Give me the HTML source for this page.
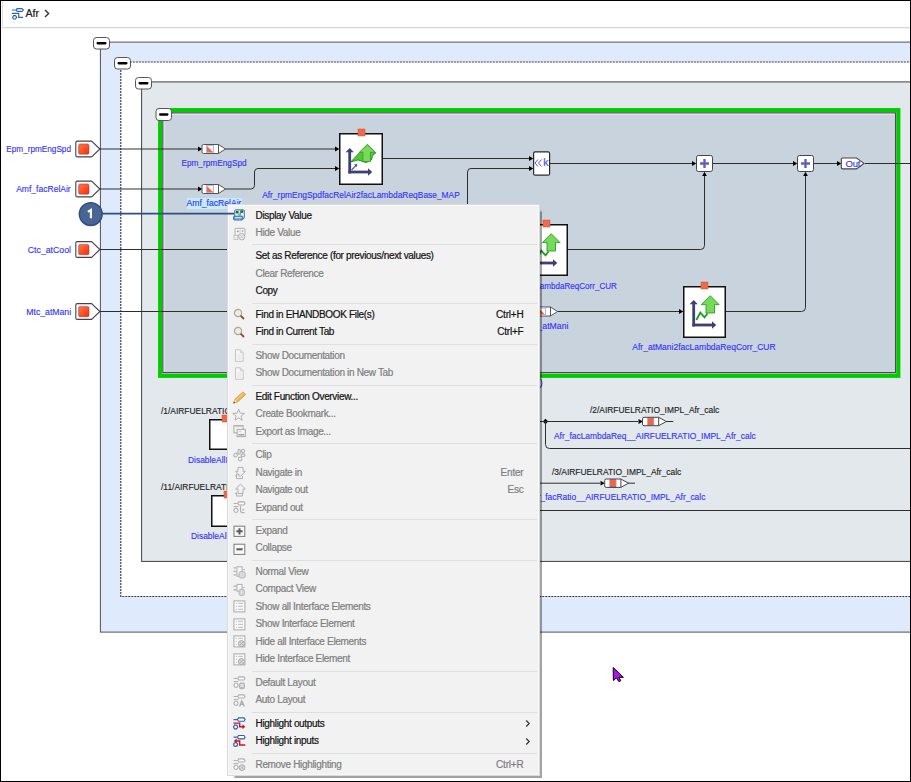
<!DOCTYPE html>
<html><head><meta charset="utf-8"><style>
*{margin:0;padding:0;box-sizing:border-box}
html,body{width:911px;height:782px;overflow:hidden;background:#fff}
body{position:relative;font-family:"Liberation Sans", sans-serif}
#frame{position:absolute;left:0;top:0;width:911px;height:782px;border:1px solid #000;z-index:50;pointer-events:none}
#hdr{position:absolute;left:2px;top:1px;width:909px;height:27px;background:#fff;border-left:1px solid #e2e2e2;border-bottom:1px solid #d6d6d6;box-shadow:0 1px 1px rgba(0,0,0,0.04)}
#hdr .afr{position:absolute;left:22.5px;top:6.2px;font-size:10.6px;line-height:12px;color:#1a1a1a;letter-spacing:0px;-webkit-text-stroke:0.2px currentColor}
.t{position:absolute;white-space:nowrap;line-height:12px;-webkit-text-stroke:0.15px currentColor}
.t.c{text-align:center}
#menu{position:absolute;left:227px;top:204px;width:313px;height:572px;background:#f2f2f2;border:1px solid #dadada;box-shadow:inset 1px 1px 0 #fafafa, inset -1px -1px 0 #f8f8f8, 3.75px 3.75px 1px -1.75px rgba(0,0,0,0.36)}
.mi{position:absolute;left:0;width:100%;height:17.5px;font-size:10px;letter-spacing:-0.33px;color:#111;-webkit-text-stroke:0.2px currentColor}
.mi .lb{position:absolute;left:27.5px;top:2.5px;line-height:12px;white-space:nowrap}
.mi .sc{position:absolute;right:15.5px;top:2.5px;line-height:12px;letter-spacing:-0.2px}
.mi.dis{color:#7e7e7e}
.mi .ic{position:absolute;left:4.5px;top:2px;overflow:visible}
.mi .sub{position:absolute;right:8.5px;top:4.25px}
.sep{position:absolute;left:24px;right:2px;height:1px;background:#dfdfdf}
</style></head><body>
<div id="hdr">
<svg style="position:absolute;left:9px;top:6px" width="14" height="14" viewBox="0 0 14 14">
<path d="M0 3 H4.4 M0 6.4 H6.9" stroke="#2c66b0" stroke-width="1.2"/>
<path d="M5.5 1.6 H9.9 L11.4 3 L9.9 4.4 H5.5 Q4.6 4.4 4.6 3.5 V2.5 Q4.6 1.6 5.5 1.6 Z" fill="none" stroke="#2c66b0" stroke-width="1.15"/>
<path d="M6.7 6 V10.4 H11.1" fill="none" stroke="#2c66b0" stroke-width="1.2"/>
<path d="M1.6 8.6 H3.6 L4.6 10.3 L3.6 12 H1.6 L0.6 10.3 Z" fill="none" stroke="#2c66b0" stroke-width="1.2"/>
</svg>
<div class="afr">Afr</div>
<svg style="position:absolute;left:41.3px;top:7.7px" width="6" height="9" viewBox="0 0 6 9"><path d="M1 1 L4.6 4.5 L1 8" fill="none" stroke="#333" stroke-width="1.4"/></svg>
</div>
<svg style="position:absolute;left:0;top:0" width="911" height="782" viewBox="0 0 911 782">
<defs><linearGradient id="rg" x1="0" y1="0" x2="1" y2="1"><stop offset="0" stop-color="#ff7a4a"/><stop offset="1" stop-color="#ff2c00"/></linearGradient></defs>
<rect x="100.4" y="42.1" width="830" height="590" fill="#dfeafd" stroke="#4e5258"/>
<rect x="120.8" y="62" width="810" height="534.5" fill="#ffffff" stroke="#3a3a3a" stroke-width="1.15" stroke-dasharray="2 1"/>
<rect x="141.6" y="81.9" width="790" height="479.5" fill="#e3e8ec" stroke="#404040"/>
<rect x="160.1" y="110.05" width="738.3" height="265.85" fill="#c9d3dd" stroke="#00cc00" stroke-width="4"/>
<rect x="162.9" y="112.9" width="732.7" height="259.7" fill="none" stroke="#4a4c52" stroke-width="1.2"/>
<path d="M164.2 371.6 V114.3 H894.7" fill="none" stroke="#e4eaf0" stroke-width="1"/>
<rect x="93.5" y="37.5" width="16" height="11.5" rx="3" fill="#fff" stroke="#555" stroke-width="1"/>
<rect x="96.5" y="42.05" width="10" height="2.4" rx="1.1" fill="#000"/>
<rect x="114.5" y="57.5" width="16" height="11.5" rx="3" fill="#fff" stroke="#555" stroke-width="1"/>
<rect x="117.5" y="62.05" width="10" height="2.4" rx="1.1" fill="#000"/>
<rect x="135.5" y="77.5" width="16" height="11.5" rx="3" fill="#fff" stroke="#555" stroke-width="1"/>
<rect x="138.5" y="82.05" width="10" height="2.4" rx="1.1" fill="#000"/>
<rect x="156.0" y="108.5" width="15.5" height="12" rx="3" fill="#fff" stroke="#555" stroke-width="1"/>
<rect x="159.0" y="113.3" width="9.5" height="2.4" rx="1.1" fill="#000"/>
<path d="M77.3 141.1 H91.6 L99.9 149 L91.6 156.9 H77.3 Q75.8 156.9 75.8 155.4 V142.6 Q75.8 141.1 77.3 141.1 Z" fill="#fff" stroke="#444" stroke-width="1.1"/>
<rect x="78.6" y="143.9" width="10.4" height="10.3" rx="1.5" fill="url(#rg)" stroke="#7a3a70" stroke-width=".5"/>
<path d="M77.3 181.1 H91.6 L99.9 189 L91.6 196.9 H77.3 Q75.8 196.9 75.8 195.4 V182.6 Q75.8 181.1 77.3 181.1 Z" fill="#fff" stroke="#444" stroke-width="1.1"/>
<rect x="78.6" y="183.9" width="10.4" height="10.3" rx="1.5" fill="url(#rg)" stroke="#7a3a70" stroke-width=".5"/>
<path d="M77.3 241.6 H91.6 L99.9 249.5 L91.6 257.4 H77.3 Q75.8 257.4 75.8 255.9 V243.1 Q75.8 241.6 77.3 241.6 Z" fill="#fff" stroke="#444" stroke-width="1.1"/>
<rect x="78.6" y="244.4" width="10.4" height="10.3" rx="1.5" fill="url(#rg)" stroke="#7a3a70" stroke-width=".5"/>
<path d="M77.3 303.6 H91.6 L99.9 311.5 L91.6 319.4 H77.3 Q75.8 319.4 75.8 317.9 V305.1 Q75.8 303.6 77.3 303.6 Z" fill="#fff" stroke="#444" stroke-width="1.1"/>
<rect x="78.6" y="306.4" width="10.4" height="10.3" rx="1.5" fill="url(#rg)" stroke="#7a3a70" stroke-width=".5"/>
<path d="M100 149 H198" fill="none" stroke="#2e2e2e" stroke-width="1"/>
<path d="M202.3 149 L198 146.6 L198 151.4 Z" fill="#000"/>
<path d="M225 149 H335" fill="none" stroke="#2e2e2e" stroke-width="1"/>
<path d="M339.3 149 L335 146.6 L335 151.4 Z" fill="#000"/>
<path d="M100 189 H198" fill="none" stroke="#2e2e2e" stroke-width="1"/>
<path d="M202.3 189 L198 186.6 L198 191.4 Z" fill="#000"/>
<path d="M225 189 H251 Q254.5 189 254.5 185.5 V172 Q254.5 168.5 258 168.5 H335" fill="none" stroke="#2e2e2e" stroke-width="1"/>
<path d="M339.3 168.5 L335 166.1 L335 170.9 Z" fill="#000"/>
<path d="M100 249.5 H230" fill="none" stroke="#2e2e2e" stroke-width="1"/>
<path d="M100 311.5 H230" fill="none" stroke="#2e2e2e" stroke-width="1"/>
<path d="M383 158.5 H529" fill="none" stroke="#2e2e2e" stroke-width="1"/>
<path d="M533.3 158.5 L529 156.1 L529 160.9 Z" fill="#000"/>
<path d="M467.5 215 V172 Q467.5 168.5 471 168.5 H529" fill="none" stroke="#2e2e2e" stroke-width="1"/>
<path d="M533.3 168.5 L529 166.1 L529 170.9 Z" fill="#000"/>
<path d="M550 163.5 H692" fill="none" stroke="#2e2e2e" stroke-width="1"/>
<path d="M696.3 163.5 L692 161.1 L692 165.9 Z" fill="#000"/>
<path d="M713 163.5 H793" fill="none" stroke="#2e2e2e" stroke-width="1"/>
<path d="M797.3 163.5 L793 161.1 L793 165.9 Z" fill="#000"/>
<path d="M814 163.5 H837" fill="none" stroke="#2e2e2e" stroke-width="1"/>
<path d="M841.3 163.5 L837 161.1 L837 165.9 Z" fill="#000"/>
<path d="M865 163.5 H911" fill="none" stroke="#2e2e2e" stroke-width="1"/>
<path d="M568 249.5 H700.5 Q704.5 249.5 704.5 245.5 V176" fill="none" stroke="#2e2e2e" stroke-width="1"/>
<path d="M704.5 171.7 L702.1 176 L706.9 176 Z" fill="#000"/>
<path d="M726 311.5 H801.5 Q805.5 311.5 805.5 307.5 V176" fill="none" stroke="#2e2e2e" stroke-width="1"/>
<path d="M805.5 171.7 L803.1 176 L807.9 176 Z" fill="#000"/>
<path d="M557 311.5 H679" fill="none" stroke="#2e2e2e" stroke-width="1"/>
<path d="M683.3 311.5 L679 309.1 L679 313.9 Z" fill="#000"/>
<path d="M545.5 418.8 L548.2 421.5 L545.5 424.2 L542.8 421.5 Z" fill="#000"/>
<path d="M530 421.5 H638" fill="none" stroke="#2e2e2e" stroke-width="1"/>
<path d="M642.8 421.5 L638.5 419.1 L638.5 423.9 Z" fill="#000"/>
<path d="M666 421.5 H673.3" fill="none" stroke="#2e2e2e" stroke-width="1"/>
<path d="M545.5 421.5 V444.5 Q545.5 448.5 549.5 448.5 H911" fill="none" stroke="#2e2e2e" stroke-width="1"/>
<path d="M530 483.2 H600" fill="none" stroke="#2e2e2e" stroke-width="1"/>
<path d="M604.8 483.2 L600.5 480.8 L600.5 485.59999999999997 Z" fill="#000"/>
<path d="M628 483.2 H635" fill="none" stroke="#2e2e2e" stroke-width="1"/>
<path d="M530 510.5 H911" fill="none" stroke="#2e2e2e" stroke-width="1"/>
<path d="M203.5 144.5 H218.5 L225.5 149 L218.5 153.5 H203.5 Q202 153.5 202 152 V146 Q202 144.5 203.5 144.5 Z" fill="#fff" stroke="#555" stroke-width="1"/>
<line x1="218.5" y1="144.5" x2="218.5" y2="153.5" stroke="#555" stroke-width="1"/>
<rect x="206.5" y="145.5" width="7" height="7" fill="#fff" stroke="#b4b4ee" stroke-width="1"/>
<path d="M207 146 L213 152 H207 Z" fill="#ff6630"/>
<path d="M203.5 184.5 H218.5 L225.5 189 L218.5 193.5 H203.5 Q202 193.5 202 192 V186 Q202 184.5 203.5 184.5 Z" fill="#fff" stroke="#555" stroke-width="1"/>
<line x1="218.5" y1="184.5" x2="218.5" y2="193.5" stroke="#555" stroke-width="1"/>
<rect x="206.5" y="185.5" width="7" height="7" fill="#fff" stroke="#b4b4ee" stroke-width="1"/>
<path d="M207 186 L213 192 H207 Z" fill="#ff6630"/>
<path d="M535.5 307.0 H550.5 L557.5 311.5 L550.5 316.0 H535.5 Q534 316.0 534 314.5 V308.5 Q534 307.0 535.5 307.0 Z" fill="#fff" stroke="#555" stroke-width="1"/>
<line x1="550.5" y1="307.0" x2="550.5" y2="316.0" stroke="#555" stroke-width="1"/>
<rect x="538.5" y="308.0" width="7" height="7" fill="#fff" stroke="#b4b4ee" stroke-width="1"/>
<path d="M539 308.5 L545 314.5 H539 Z" fill="#ff6630"/>
<path d="M644.0 417.3 H658.7 L666.3 421.5 L658.7 425.7 H644.0 Q642.5 425.7 642.5 424.2 V418.8 Q642.5 417.3 644.0 417.3 Z" fill="#fff" stroke="#444" stroke-width="1"/>
<line x1="658.7" y1="417.3" x2="658.7" y2="425.7" stroke="#444" stroke-width="1"/>
<rect x="647.5" y="418.1" width="6.4" height="6.8" fill="#ff6230" stroke="#a8a8e8" stroke-width=".7"/>
<path d="M647.5 417.9 H653.9 M647.5 425.1 H653.9" stroke="#34346a" stroke-width=".6"/>
<path d="M606.2 479.0 H620.9000000000001 L628.5 483.2 L620.9000000000001 487.4 H606.2 Q604.7 487.4 604.7 485.9 V480.5 Q604.7 479.0 606.2 479.0 Z" fill="#fff" stroke="#444" stroke-width="1"/>
<line x1="620.9000000000001" y1="479.0" x2="620.9000000000001" y2="487.4" stroke="#444" stroke-width="1"/>
<rect x="609.7" y="479.8" width="6.4" height="6.8" fill="#ff6230" stroke="#a8a8e8" stroke-width=".7"/>
<path d="M609.7 479.59999999999997 H616.1 M609.7 486.8 H616.1" stroke="#34346a" stroke-width=".6"/>
<rect x="339.75" y="133.75" width="42.5" height="50.5" fill="#fff" stroke="#111" stroke-width="1.5"/>
<rect x="358" y="129" width="7" height="7" fill="#f06a4a" stroke="#d05030" stroke-width=".5"/>
<g transform="translate(339,133)"><path d="M10.7 40.5 L10.7 18" stroke="#3f3f78" stroke-width="2.8"/><path d="M6.6 19.3 L10.7 15 L14.8 19.3 Z" fill="#3f3f78"/><path d="M9.3 39 L29.5 39" stroke="#3f3f78" stroke-width="2.8"/><path d="M29 35.3 L33.3 39 L29 42.7 Z" fill="#3f3f78"/></g>
<g transform="translate(339,133)"><path d="M12.6 37 L17.4 32" stroke="#5a5a92" stroke-width="1.1"/><path d="M15 31.3 L18.3 31 L18 34.3 Z" fill="#5a5a92"/><path d="M11.8 28.9 L28.3 11.6 L36.8 19.9 L33.6 22.5 L32.4 27 L27.1 29.6 L19.1 26.9 Z" fill="#58c43a" stroke="#1c9c1c" stroke-width="1"/><path d="M28.3 11.6 L36.3 19.3 L31.4 19.3 L31.4 28.6 L23.9 28.6 L23.9 19.3 L20.3 19.3 Z" fill="#7ad85c" stroke="#26a026" stroke-width=".8"/></g>
<rect x="524.75" y="224.75" width="42.5" height="50.5" fill="#fff" stroke="#111" stroke-width="1.5"/>
<rect x="543" y="220" width="7" height="7" fill="#f06a4a" stroke="#d05030" stroke-width=".5"/>
<g transform="translate(524,224)"><path d="M10.7 40.5 L10.7 17" stroke="#3f3f78" stroke-width="2.8"/><path d="M6.6 18.3 L10.7 14 L14.8 18.3 Z" fill="#3f3f78"/><path d="M9.3 39 L29.5 39" stroke="#3f3f78" stroke-width="2.8"/><path d="M29 35.3 L33.3 39 L29 42.7 Z" fill="#3f3f78"/></g>
<g transform="translate(524,224)"><path d="M13.4 34 L17.3 26.6 L21.5 31.3 L24.5 27.5" fill="none" stroke="#1c9c1c" stroke-width="1.8"/><path d="M27.2 9.7 L36.1 18.6 L31.5 18.6 L31.5 27 L23 27 L23 18.6 L18.4 18.6 Z" fill="#78d85a" stroke="#24a024" stroke-width=".9"/></g>
<rect x="683.75" y="286.75" width="41.5" height="50.5" fill="#fff" stroke="#111" stroke-width="1.5"/>
<rect x="701" y="282" width="7" height="7" fill="#f06a4a" stroke="#d05030" stroke-width=".5"/>
<g transform="translate(683,286)"><path d="M10.7 40.5 L10.7 17" stroke="#3f3f78" stroke-width="2.8"/><path d="M6.6 18.3 L10.7 14 L14.8 18.3 Z" fill="#3f3f78"/><path d="M9.3 39 L29.5 39" stroke="#3f3f78" stroke-width="2.8"/><path d="M29 35.3 L33.3 39 L29 42.7 Z" fill="#3f3f78"/></g>
<g transform="translate(683,286)"><path d="M13.4 34 L17.3 26.6 L21.5 31.3 L24.5 27.5" fill="none" stroke="#1c9c1c" stroke-width="1.8"/><path d="M27.2 9.7 L36.1 18.6 L31.5 18.6 L31.5 27 L23 27 L23 18.6 L18.4 18.6 Z" fill="#78d85a" stroke="#24a024" stroke-width=".9"/></g>
<rect x="209.75" y="419.75" width="38.5" height="29.5" fill="#fff" stroke="#111" stroke-width="1.5"/>
<rect x="222" y="415" width="7" height="7" fill="#f06a4a" stroke="#d05030" stroke-width=".5"/>
<rect x="211.75" y="495.75" width="38.5" height="30.5" fill="#fff" stroke="#111" stroke-width="1.5"/>
<rect x="224" y="491" width="7" height="7" fill="#f06a4a" stroke="#d05030" stroke-width=".5"/>
<rect x="533.6" y="151.9" width="16" height="23.3" rx="1.5" fill="#fff" stroke="#2a2a2a" stroke-width="1.2"/>
<rect x="696.5" y="155.5" width="16" height="16" rx="2" fill="#fff" stroke="#444" stroke-width="1"/>
<path d="M700.0 163.5 H709.0 M704.5 159 V168" stroke="#6060c0" stroke-width="2.4"/>
<rect x="797.5" y="155.5" width="16" height="16" rx="2" fill="#fff" stroke="#444" stroke-width="1"/>
<path d="M801.0 163.5 H810.0 M805.5 159 V168" stroke="#6060c0" stroke-width="2.4"/>
<path d="M842.6 158 H856.5 L864 163.4 L856.5 168.9 H842.6 Q841.3 168.9 841.3 167.6 V159.3 Q841.3 158 842.6 158 Z" fill="#fff" stroke="#444" stroke-width="1.1"/>
<path d="M540.4 378.8 Q543.6 383.3 540.4 387.8" fill="none" stroke="#4848f0" stroke-width="1.1"/>
</svg>
<div class="t" style="right:840px;top:142.5px;color:#3434fa;font-size:9.5px;transform:scaleX(0.863);transform-origin:100% 50%;text-align:right;">Epm_rpmEngSpd</div>
<div class="t" style="right:840px;top:182.5px;color:#3434fa;font-size:9.5px;transform:scaleX(0.899);transform-origin:100% 50%;text-align:right;">Amf_facRelAir</div>
<div class="t" style="right:840px;top:243.5px;color:#3434fa;font-size:9.5px;transform:scaleX(0.919);transform-origin:100% 50%;text-align:right;">Ctc_atCool</div>
<div class="t" style="right:840px;top:305.5px;color:#3434fa;font-size:9.5px;transform:scaleX(0.912);transform-origin:100% 50%;text-align:right;">Mtc_atMani</div>
<div class="t c" style="left:64px;width:300px;top:156.5px;color:#3434fa;font-size:9.5px;transform:scaleX(0.87);transform-origin:50% 50%;">Epm_rpmEngSpd</div>
<div style="position:absolute;left:187px;top:198px;width:55px;height:11px;background:#c4ecfc"></div>
<div class="t c" style="left:64px;width:300px;top:197px;color:#3434fa;font-size:9.5px;transform:scaleX(0.905);transform-origin:50% 50%;">Amf_facRelAir</div>
<div class="t c" style="left:210.5px;width:300px;top:188.5px;color:#3434fa;font-size:9.5px;transform:scaleX(0.885);transform-origin:50% 50%;">Afr_rpmEngSpdfacRelAir2facLambdaReqBase_MAP</div>
<div class="t" style="right:293.70000000000005px;top:280px;color:#3434fa;font-size:9.5px;transform:scaleX(0.85);transform-origin:100% 50%;text-align:right;">Afr_atCool2facLambdaReqCorr_CUR</div>
<div class="t c" style="left:395.5px;width:300px;top:319.5px;color:#3434fa;font-size:9.5px;transform:scaleX(0.912);transform-origin:50% 50%;">Mtc_atMani</div>
<div class="t c" style="left:554px;width:300px;top:341px;color:#3434fa;font-size:9.5px;transform:scaleX(0.896);transform-origin:50% 50%;">Afr_atMani2facLambdaReqCorr_CUR</div>
<div class="t" style="left:160.5px;top:405px;color:#222;font-size:9.5px;transform:scaleX(0.885);transform-origin:0 50%;">/1/AIRFUELRATIO_IMPL_Afr_calc</div>
<div class="t" style="left:188px;top:453.5px;color:#3434fa;font-size:9.5px;transform:scaleX(0.885);transform-origin:0 50%;">DisableAllInterfaces</div>
<div class="t" style="left:160.5px;top:481px;color:#222;font-size:9.5px;transform:scaleX(0.885);transform-origin:0 50%;">/11/AIRFUELRATIO_IMPL_Afr_calc</div>
<div class="t" style="left:190.5px;top:530px;color:#3434fa;font-size:9.5px;transform:scaleX(0.885);transform-origin:0 50%;">DisableAllInterfaces</div>
<div class="t" style="left:589.5px;top:404px;color:#222;font-size:9.5px;transform:scaleX(0.885);transform-origin:0 50%;">/2/AIRFUELRATIO_IMPL_Afr_calc</div>
<div class="t" style="left:553.5px;top:429.5px;color:#3434fa;font-size:9.5px;transform:scaleX(0.885);transform-origin:0 50%;">Afr_facLambdaReq__AIRFUELRATIO_IMPL_Afr_calc</div>
<div class="t" style="left:551.5px;top:465.5px;color:#222;font-size:9.5px;transform:scaleX(0.885);transform-origin:0 50%;">/3/AIRFUELRATIO_IMPL_Afr_calc</div>
<div class="t" style="right:206px;top:491px;color:#3434fa;font-size:9.5px;transform:scaleX(0.885);transform-origin:100% 50%;text-align:right;">Afr_facRatio__AIRFUELRATIO_IMPL_Afr_calc</div>
<svg style="position:absolute;left:533px;top:152px" width="17" height="24" viewBox="0 0 17 24"><path d="M5 7.5 L2 11 L5 14.5 M8.5 7.5 L5.5 11 L8.5 14.5" fill="none" stroke="#5656e6" stroke-width="1"/></svg>
<div class="t" style="left:543.3px;top:155.5px;font-size:10.5px;color:#4a4af0;letter-spacing:0">k</div>
<div class="t" style="left:845.6px;top:157.9px;font-size:9.5px;color:#3434fa;letter-spacing:-0.2px">Out</div>
<div id="menu">
<div class="mi" style="top:2.00px"><svg class="ic" width="13" height="13" viewBox="0 0 13 13"><rect x="1.7" y="0.8" width="9.6" height="8.8" rx="1" fill="#e6eef8" stroke="#3a70b0" stroke-width="1"/><path d="M5.3 1.5 V6.5" stroke="#9abce4"/><path d="M7.4 1.5 V6.5" stroke="#5a8ad0"/><circle cx="4.1" cy="3.2" r="1.4" fill="#0c7c0c"/><circle cx="8.9" cy="2.7" r="1.4" fill="#0c7c0c"/><circle cx="6.5" cy="5.6" r="1.1" fill="#6ac84a"/><rect x="0.6" y="7.2" width="9.2" height="3.8" rx=".8" fill="#6e9cd0" stroke="#3a70b0" stroke-width="1"/><path d="M2 8.7 H8.6" stroke="#fff" stroke-width=".8"/><path d="M3.5 9.8 V10.3 M6.5 9.8 V10.3" stroke="#fff" stroke-width=".8"/></svg><span class="lb">Display Value</span></div>
<div class="mi dis" style="top:19.50px"><svg class="ic" width="13" height="13" viewBox="0 0 13 13"><rect x="2" y="1.3" width="10" height="7" rx="1" fill="#f6f6f6" stroke="#b0b0b0"/><path d="M7.1 2.2 V6.6" stroke="#d0d0d0"/><path d="M3.8 4.45 H5.8 M4.8 3.45 V5.45" stroke="#a0a0a0"/><rect x="8.8" y="3.2" width="1.6" height="1.6" fill="#a8a8a8"/><rect x="0.9" y="8.3" width="3.8" height="4.2" fill="#eeeeee" stroke="#c0c0c0" stroke-width=".8"/><circle cx="8.7" cy="9.7" r="3.2" fill="#eaeaea" stroke="#b0b0b0"/><path d="M7.3 8.3 L10.1 11.1 M10.1 8.3 L7.3 11.1" stroke="#c0c0c0" stroke-width=".8"/></svg><span class="lb">Hide Value</span></div>
<div class="sep" style="top:39.45px"></div>
<div class="mi" style="top:42.90px"><span class="lb">Set as Reference (for previous/next values)</span></div>
<div class="mi dis" style="top:60.40px"><span class="lb">Clear Reference</span></div>
<div class="mi" style="top:77.90px"><span class="lb">Copy</span></div>
<div class="sep" style="top:97.85px"></div>
<div class="mi" style="top:101.30px"><svg class="ic" width="13" height="13" viewBox="0 0 13 13"><circle cx="5" cy="5" r="3.6" fill="#e4ecf4" stroke="#b8a878" stroke-width="1.2"/><path d="M7.6 7.6 L11 11" stroke="#8a4a3a" stroke-width="1.8"/></svg><span class="lb">Find in EHANDBOOK File(s)</span><span class="sc">Ctrl+H</span></div>
<div class="mi" style="top:118.80px"><svg class="ic" width="13" height="13" viewBox="0 0 13 13"><circle cx="5" cy="5" r="3.6" fill="#e4ecf4" stroke="#b8a878" stroke-width="1.2"/><path d="M7.6 7.6 L11 11" stroke="#8a4a3a" stroke-width="1.8"/></svg><span class="lb">Find in Current Tab</span><span class="sc">Ctrl+F</span></div>
<div class="sep" style="top:138.75px"></div>
<div class="mi dis" style="top:142.20px"><svg class="ic" width="13" height="13" viewBox="0 0 13 13"><path d="M2.5 0.8 H7.3 L10.2 3.7 V12.3 H2.5 Z" fill="#f7f7f7" stroke="#c6c6c6"/><path d="M7.3 0.8 V3.7 H10.2" fill="none" stroke="#cdcdcd"/><path d="M4 6 H8.6 M4 8 H8.6 M4 10 H8.6" stroke="#dedede" stroke-width=".8"/></svg><span class="lb">Show Documentation</span></div>
<div class="mi dis" style="top:159.70px"><svg class="ic" width="13" height="13" viewBox="0 0 13 13"><path d="M2.5 0.8 H7.3 L10.2 3.7 V12.3 H2.5 Z" fill="#f7f7f7" stroke="#c6c6c6"/><path d="M7.3 0.8 V3.7 H10.2" fill="none" stroke="#cdcdcd"/><path d="M4 6 H8.6 M4 8 H8.6 M4 10 H8.6" stroke="#dedede" stroke-width=".8"/></svg><span class="lb">Show Documentation in New Tab</span></div>
<div class="sep" style="top:179.65px"></div>
<div class="mi" style="top:183.10px"><svg class="ic" width="13" height="13" viewBox="0 0 13 13"><path d="M0.6 13.2 L1.7 9.6 L9.9 1.9 L12.6 4.4 L4.3 12.2 Z" fill="#f2b552" stroke="#c8882a" stroke-width=".7"/><path d="M2.6 10.4 L10.4 3" stroke="#fad890" stroke-width=".9"/><path d="M0.6 13.2 L1.7 9.6 L4.3 12.2 Z" fill="#f2dcb0"/><path d="M0.5 13.3 L1 11.5 L2.3 12.8 Z" fill="#3a2a20"/></svg><span class="lb">Edit Function Overview...</span></div>
<div class="mi dis" style="top:200.60px"><svg class="ic" width="13" height="13" viewBox="0 0 13 13"><path d="M5.60 1.20 L7.13 5.20 L11.40 5.41 L8.07 8.10 L9.19 12.24 L5.60 9.90 L2.01 12.24 L3.13 8.10 L-0.20 5.41 L4.07 5.20 Z" fill="none" stroke="#aaaaaa" stroke-width=".9"/></svg><span class="lb">Create Bookmark...</span></div>
<div class="mi dis" style="top:218.10px"><svg class="ic" width="13" height="13" viewBox="0 0 13 13"><rect x="0.9" y="0.6" width="9.2" height="7.2" fill="#f6f6f6" stroke="#a8a8a8"/><path d="M1.4 1.6 H9.6" stroke="#cfcfcf" stroke-width="1.2"/><rect x="4.1" y="4.4" width="8.2" height="7.2" fill="#f6f6f6" stroke="#a8a8a8"/><path d="M5.5 7 L7 6 L8.5 7" fill="none" stroke="#b8b8b8" stroke-width=".7"/><path d="M5.3 9.7 H11.2" stroke="#a0a0a0" stroke-width="1.5"/></svg><span class="lb">Export as Image...</span></div>
<div class="sep" style="top:238.05px"></div>
<div class="mi dis" style="top:241.50px"><svg class="ic" width="13" height="13" viewBox="0 0 13 13"><g fill="none" stroke="#b2b2b2" stroke-width="1.1"><ellipse cx="2.6" cy="6" rx="1.9" ry="1.7" transform="rotate(-35 2.6 6)"/><ellipse cx="6.1" cy="2.8" rx="1.2" ry="2.5"/><ellipse cx="10" cy="2" rx="1.6" ry="1.7"/><ellipse cx="10" cy="6.2" rx="2" ry="1.3"/><circle cx="7.1" cy="10" r="1.9"/></g></svg><span class="lb">Clip</span></div>
<div class="mi dis" style="top:259.00px"><svg class="ic" width="13" height="13" viewBox="0 0 13 13"><path d="M5 1.4 H10 V5.3 H12.4 L7.5 10.3 L2.6 5.3 H5 Z" fill="#f2f2f2" stroke="#b0b0b0"/><path d="M3.6 7.6 V12.6 H9.5 V10.2 M3.6 9.8 H2" fill="none" stroke="#b0b0b0"/><path d="M4 8 L7.2 10.8" stroke="#c4c4c4"/></svg><span class="lb">Navigate in</span><span class="sc">Enter</span></div>
<div class="mi dis" style="top:276.50px"><svg class="ic" width="13" height="13" viewBox="0 0 13 13"><path d="M7.5 0.2 L12.4 5 H10 V9.4 H5 V5 H2.6 Z" fill="#f2f2f2" stroke="#b0b0b0"/><path d="M3.6 8.4 V12 H9.5 V9.6 M3.6 9.6 H2" fill="none" stroke="#b0b0b0"/></svg><span class="lb">Navigate out</span><span class="sc">Esc</span></div>
<div class="mi dis" style="top:294.00px"><svg class="ic" width="13" height="13" viewBox="0 0 13 13"><path d="M0.6 2.45 H4.8 M0.6 5.55 H5.3" stroke="#b0b0b0" stroke-width="1.1"/><path d="M5.8 0.9 H10.9 L12 2.45 L10.9 4 H5.8 L4.8 2.45 Z" fill="#f8f8f8" stroke="#b0b0b0" stroke-width="1.1"/><path d="M1.9 7.4 H4.1 L5.2 9.3 L4.1 11.3 H1.9 L0.8 9.3 Z" fill="#f8f8f8" stroke="#b0b0b0" stroke-width="1.1"/><path d="M7.5 4.4 V9.5 Q7.5 11.6 9.5 11.6 H11.5" fill="none" stroke="#b0b0b0" stroke-width="1.1"/><path d="M8.9 9.6 L10.2 7.2 L11.5 9.6 Z" fill="#b0b0b0"/></svg><span class="lb">Expand out</span></div>
<div class="sep" style="top:313.95px"></div>
<div class="mi dis" style="top:317.40px"><svg class="ic" width="13" height="13" viewBox="0 0 13 13"><rect x="1" y="2.2" width="10.8" height="10.2" fill="#f8f8f8" stroke="#7a7a7a"/><path d="M3.4 7.3 H9.6 M6.5 4.2 V10.4" stroke="#5a5a5a" stroke-width="2"/></svg><span class="lb">Expand</span></div>
<div class="mi dis" style="top:334.90px"><svg class="ic" width="13" height="13" viewBox="0 0 13 13"><rect x="1" y="2.2" width="10.8" height="10.2" fill="#f8f8f8" stroke="#7a7a7a"/><path d="M3.4 7.3 H9.6" stroke="#5a5a5a" stroke-width="2"/></svg><span class="lb">Collapse</span></div>
<div class="sep" style="top:354.85px"></div>
<div class="mi dis" style="top:358.30px"><svg class="ic" width="13" height="13" viewBox="0 0 13 13"><path d="M0.5 2.95 H3.3 M0.5 6.35 H3.3 M0.5 9.85 H3.3" stroke="#b4b4b4" stroke-width="1.3"/><rect x="3.9" y="1.8" width="5.2" height="9.4" fill="#f6f6f6" stroke="#b0b0b0"/><rect x="6" y="6.6" width="6.2" height="6.4" rx="1.8" fill="#d2d2d2" stroke="#b0b0b0" stroke-width=".8"/><path d="M8 7.5 V12 M10.2 7.5 V12" stroke="#ececec" stroke-width=".7"/><path d="M9.6 4.6 H12" stroke="#b4b4b4"/></svg><span class="lb">Normal View</span></div>
<div class="mi dis" style="top:375.80px"><svg class="ic" width="13" height="13" viewBox="0 0 13 13"><path d="M0.5 3.25 H3.3 M0.5 6.75 H3.3" stroke="#b4b4b4" stroke-width="1.3"/><rect x="3.9" y="1.4" width="5.2" height="6.8" fill="#f6f6f6" stroke="#b0b0b0"/><rect x="6" y="6.2" width="5.5" height="6.4" rx="2.2" fill="#d2d2d2" stroke="#b0b0b0" stroke-width=".8"/><path d="M8.7 8 V11" stroke="#ececec" stroke-width="1"/><path d="M9.6 4.6 H11.6" stroke="#b4b4b4"/></svg><span class="lb">Compact View</span></div>
<div class="mi dis" style="top:393.30px"><svg class="ic" width="13" height="13" viewBox="0 0 13 13"><rect x="0.9" y="0.9" width="11" height="11" fill="#f8f8f8" stroke="#aaaaaa"/><path d="M2.8 3.4 H3.8 M2.8 6.4 H3.8 M2.8 9.4 H3.8" stroke="#b4b4b4"/><path d="M5.2 3.4 H10 M5.2 6.4 H10 M5.2 9.4 H10" stroke="#c6c6c6" stroke-width="1.1"/></svg><span class="lb">Show all Interface Elements</span></div>
<div class="mi dis" style="top:410.80px"><svg class="ic" width="13" height="13" viewBox="0 0 13 13"><rect x="0.9" y="0.9" width="11" height="11" fill="#f8f8f8" stroke="#aaaaaa"/><path d="M2.8 3.4 H3.8 M2.8 6.4 H3.8 M2.8 9.4 H3.8" stroke="#b4b4b4"/><path d="M5.2 3.4 H10 M5.2 6.4 H10 M5.2 9.4 H10" stroke="#c6c6c6" stroke-width="1.1"/></svg><span class="lb">Show Interface Element</span></div>
<div class="mi dis" style="top:428.30px"><svg class="ic" width="13" height="13" viewBox="0 0 13 13"><rect x="0.9" y="0.9" width="11" height="11" fill="#f8f8f8" stroke="#aaaaaa"/><path d="M2.8 3.4 H3.8 M2.8 6.4 H3.8 M2.8 9.4 H3.8" stroke="#b4b4b4"/><path d="M5.2 3.4 H10" stroke="#c6c6c6" stroke-width="1.1"/><circle cx="8.4" cy="8.6" r="3" fill="#d8d8d8" stroke="#a8a8a8"/><path d="M6.9 7.1 L9.9 10.1 M9.9 7.1 L6.9 10.1" stroke="#b0b0b0" stroke-width=".8"/></svg><span class="lb">Hide all Interface Elements</span></div>
<div class="mi dis" style="top:445.80px"><svg class="ic" width="13" height="13" viewBox="0 0 13 13"><rect x="0.9" y="0.9" width="11" height="11" fill="#f8f8f8" stroke="#aaaaaa"/><path d="M2.8 3.4 H3.8 M2.8 6.4 H3.8 M2.8 9.4 H3.8" stroke="#b4b4b4"/><path d="M5.2 3.4 H10" stroke="#c6c6c6" stroke-width="1.1"/><circle cx="8.4" cy="8.6" r="3" fill="#d8d8d8" stroke="#a8a8a8"/><path d="M6.9 7.1 L9.9 10.1 M9.9 7.1 L6.9 10.1" stroke="#b0b0b0" stroke-width=".8"/></svg><span class="lb">Hide Interface Element</span></div>
<div class="sep" style="top:465.75px"></div>
<div class="mi dis" style="top:469.20px"><svg class="ic" width="13" height="13" viewBox="0 0 13 13"><path d="M0.6 2.45 H4.8 M0.6 5.55 H5.3" stroke="#b0b0b0" stroke-width="1.1"/><path d="M5.8 0.9 H10.9 L12 2.45 L10.9 4 H5.8 L4.8 2.45 Z" fill="#f8f8f8" stroke="#b0b0b0" stroke-width="1.1"/><path d="M1.9 7.3 H4.1 L5.2 9.3 L4.1 11.3 H1.9 L0.8 9.3 Z" fill="#f8f8f8" stroke="#b0b0b0" stroke-width="1.1"/><rect x="6.7" y="7.1" width="4.6" height="5.6" rx="1.4" fill="#e2e2e2" stroke="#aaaaaa" stroke-width="1.1"/><path d="M7.3 11.6 H10.7" stroke="#b8b8b8" stroke-width="1.2"/></svg><span class="lb">Default Layout</span></div>
<div class="mi dis" style="top:486.70px"><svg class="ic" width="13" height="13" viewBox="0 0 13 13"><path d="M0.6 2.45 H4.8 M0.6 5.55 H5.3" stroke="#b0b0b0" stroke-width="1.1"/><path d="M5.8 0.9 H10.9 L12 2.45 L10.9 4 H5.8 L4.8 2.45 Z" fill="#f8f8f8" stroke="#b0b0b0" stroke-width="1.1"/><path d="M1.9 7.3 H4.1 L5.2 9.3 L4.1 11.3 H1.9 L0.8 9.3 Z" fill="#f8f8f8" stroke="#b0b0b0" stroke-width="1.1"/><path d="M6.6 12.6 L8.8 6.9 L11.4 12.6 M7.5 10.4 H10.4" fill="none" stroke="#aaaaaa" stroke-width="1.3"/></svg><span class="lb">Auto Layout</span></div>
<div class="sep" style="top:506.65px"></div>
<div class="mi" style="top:510.10px"><svg class="ic" width="13" height="13" viewBox="0 0 13 13"><path d="M0.5 2.65 H4.4" stroke="#2a62b0" stroke-width="1.2"/><path d="M5.5 0.9 H11 L12.1 2.6 L11 4.2 H5.5 L4.4 2.6 Z" fill="#fff" stroke="#2a62b0" stroke-width="1.1"/><path d="M0.5 6.1 H6.7 V9.75 H10" fill="none" stroke="#d40f1e" stroke-width="1.4"/><path d="M9.5 7.2 L12.2 9.75 L9.5 12.3 Z" fill="#d40f1e"/><path d="M1.5 8.2 H3.7 L4.7 10 L3.7 11.8 H1.5 L0.5 10 Z" fill="#fff" stroke="#2a62b0" stroke-width="1.2"/></svg><span class="lb">Highlight outputs</span><svg class="sub" width="6" height="9" viewBox="0 0 6 9"><path d="M1.2 1.5 L4.2 4.5 L1.2 7.5" fill="none" stroke="#333" stroke-width="1.2"/></svg></div>
<div class="mi" style="top:527.60px"><svg class="ic" width="13" height="13" viewBox="0 0 13 13"><path d="M0.5 2.15 H4.4" stroke="#2a62b0" stroke-width="1.2"/><path d="M5.5 0.5 H11 L12.1 2.2 L11 3.9 H5.5 L4.4 2.2 Z" fill="#fff" stroke="#2a62b0" stroke-width="1.1"/><path d="M3 6 H6.7 V10 H12.3" fill="none" stroke="#d40f1e" stroke-width="1.4"/><path d="M3.6 3.6 L0.8 6 L3.6 8.4 Z" fill="#d40f1e"/><circle cx="2.6" cy="9.5" r="1.9" fill="#fff" stroke="#2a62b0" stroke-width="1.2"/></svg><span class="lb">Highlight inputs</span><svg class="sub" width="6" height="9" viewBox="0 0 6 9"><path d="M1.2 1.5 L4.2 4.5 L1.2 7.5" fill="none" stroke="#333" stroke-width="1.2"/></svg></div>
<div class="sep" style="top:547.55px"></div>
<div class="mi dis" style="top:551.00px"><svg class="ic" width="13" height="13" viewBox="0 0 13 13"><path d="M0.6 2.45 H4.8 M0.6 5.55 H5.3" stroke="#b0b0b0" stroke-width="1.1"/><path d="M5.8 0.9 H10.9 L12 2.45 L10.9 4 H5.8 L4.8 2.45 Z" fill="#f8f8f8" stroke="#b0b0b0" stroke-width="1.1"/><path d="M1.9 7.3 H4.1 L5.2 9.3 L4.1 11.3 H1.9 L0.8 9.3 Z" fill="#f8f8f8" stroke="#b0b0b0" stroke-width="1.1"/><circle cx="9" cy="9.6" r="2.9" fill="#e0e0e0" stroke="#aaaaaa" stroke-width="1"/><path d="M7.6 8.2 L10.4 11 M10.4 8.2 L7.6 11" stroke="#a8a8a8" stroke-width=".8"/></svg><span class="lb">Remove Highlighting</span><span class="sc">Ctrl+R</span></div>
</div>
<svg style="position:absolute;left:0;top:0" width="911" height="782" viewBox="0 0 911 782">
<line x1="100" y1="213.7" x2="234" y2="213.7" stroke="#2a4f86" stroke-width="1.8"/>
<circle cx="90.75" cy="214.05" r="11.4" fill="#4a6592" stroke="#28508a" stroke-width="1.5"/>
<path d="M87.9 211.8 L90.9 209.9 V218.2" stroke="#fff" stroke-width="2.1" fill="none"/>
</svg>
<svg style="position:absolute;left:612px;top:666px" width="14" height="18" viewBox="0 0 14 18">
<path d="M1.2 1.5 L1.4 14.6 L4.4 11.8 L6.8 15.6 L8.8 14.7 L6.9 11.3 L11.4 11.3 Z" fill="#b010f0" stroke="#000" stroke-width="1"/>
</svg>
<div id="frame"></div>
</body></html>
